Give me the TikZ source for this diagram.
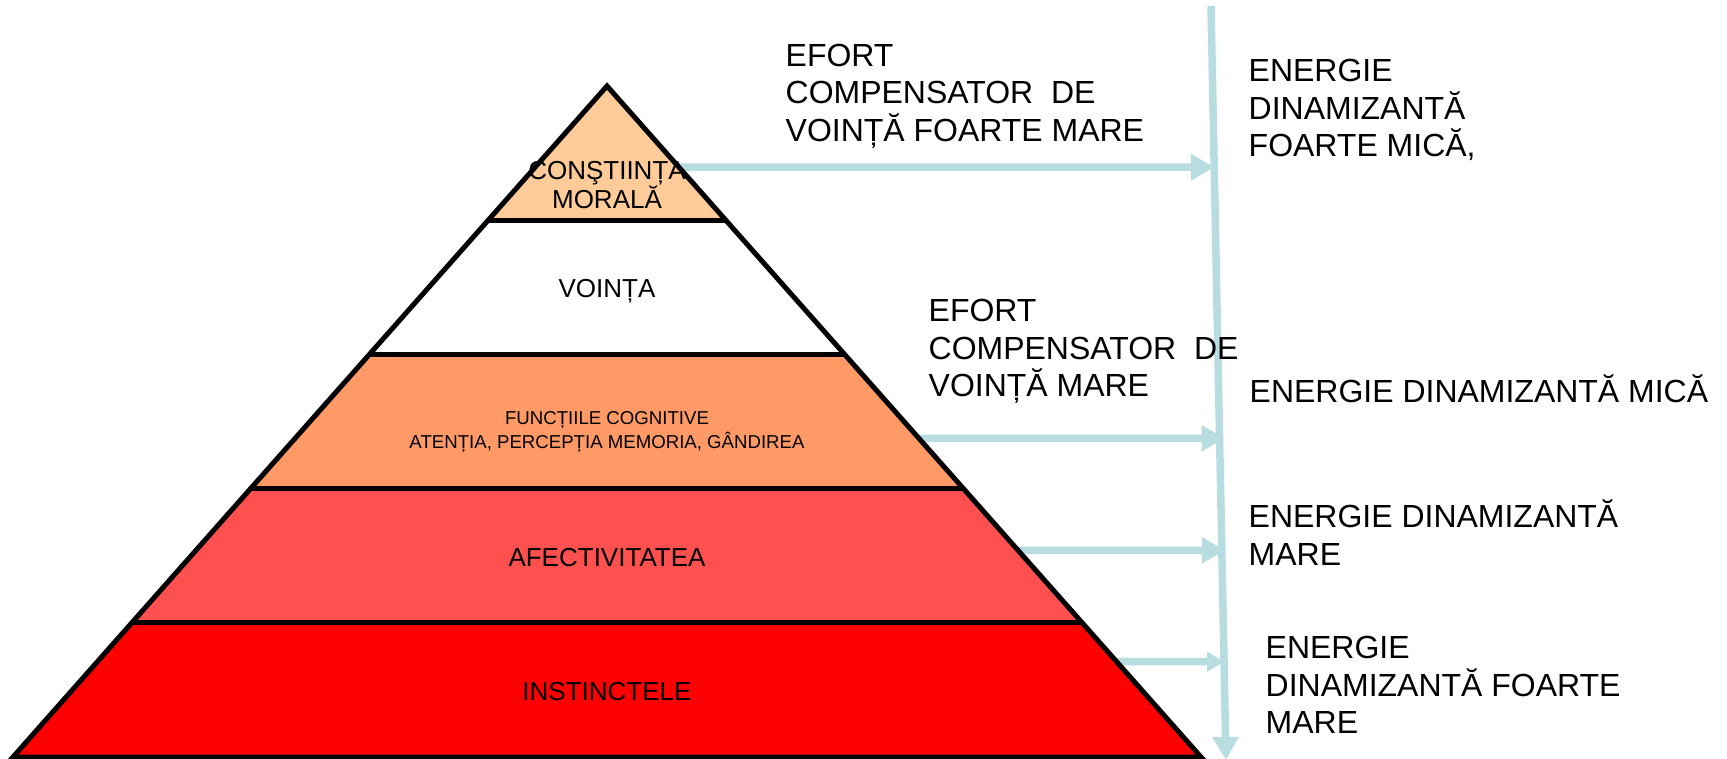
\documentclass[tikz,border=0pt]{standalone}
\usepackage{fontspec}
\setmainfont{Liberation Sans}
\usetikzlibrary{arrows.meta,calc}
\definecolor{moralcol}{HTML}{FFCC99}
\definecolor{cogncol}{HTML}{FF9966}
\definecolor{afectcol}{HTML}{FF5050}
\definecolor{instcol}{HTML}{FF0000}
\definecolor{flowcol}{HTML}{B7DDE0}
\tikzset{
  flow/.style={draw=flowcol, line width=0.75mm, -{Triangle[length=2.3mm,width=2.5mm]}},
  lvl/.style={align=center, inner sep=0pt, font=\fontsize{7.4}{8.5}\selectfont},
  txt/.style={anchor=north west, align=left, inner sep=0pt, font=\fontsize{9.1}{10.8}\selectfont}
}
\begin{document}
\begin{tikzpicture}[x=0.1mm, y=-0.1mm]
  \useasboundingbox (0,0) rectangle (1727,758);
  % pyramid corners and level points
  \coordinate (top) at (607,86);
  \coordinate (bl) at (13,757);
  \coordinate (br) at (1201,757);
  \foreach \k [evaluate=\k as \f using \k/5] in {1,...,4} {
    \coordinate (L\k) at ($(top)!\f!(bl)$);
    \coordinate (R\k) at ($(top)!\f!(br)$);
  }
  \fill[moralcol] (top) -- (R1) -- (L1) -- cycle;
  \fill[cogncol] (L2) -- (R2) -- (R3) -- (L3) -- cycle;
  \fill[afectcol] (L3) -- (R3) -- (R4) -- (L4) -- cycle;
  \fill[instcol] (L4) -- (R4) -- (br) -- (bl) -- cycle;
  % energy axis and arrows
  \coordinate (axtop) at (1211,6);
  \coordinate (axbot) at (1226,760);
  \draw[flow] (axtop) -- (axbot);
  \foreach \i/\t in {1/0.121, 2/0.525, 3/0.692, 4/0.858} {
    \pgfmathsetmacro\u{(80+\t*671)/754}
    \coordinate (s\i) at ($(top)!\t!(br)$);
    \coordinate (e\i) at ($(axtop)!\u!(axbot)$);
  }
  \draw[flow] (s1) -- (e1);
  \draw[flow] (s2) -- ($(e2)+(5,0)$);
  \draw[flow] (s3) -- ($(e3)+(3,0)$);
  \draw[flow, -{Triangle[length=1.7mm,width=1.9mm]}] (s4) -- (e4);
  % outline
  \draw[line width=0.5mm] (top) -- (br) -- (bl) -- cycle;
  \foreach \k in {1,...,4} \draw[line width=0.5mm] (L\k) -- (R\k);
  % level labels
  \node[lvl] (moral) at (607,185) {CONŞTIINȚA\\MORALĂ};
  \node[lvl] (vointa) at (607,291) {VOINȚA};
  \node[lvl, font=\fontsize{5.3}{6.8}\selectfont] (cogn) at (607,432) {FUNCȚIILE COGNITIVE\\ATENȚIA, PERCEPȚIA MEMORIA, GÂNDIREA};
  \node[lvl] (afect) at (607,558) {AFECTIVITATEA};
  \node[lvl] (inst) at (607,692) {INSTINCTELE};
  % right hand texts
  \node[txt] (effort1) at (785,43) {EFORT\\COMPENSATOR~ DE\\VOINȚĂ FOARTE MARE};
  \node[txt] (energy1) at (1248,58) {ENERGIE\\DINAMIZANTĂ\\FOARTE MICĂ,};
  \node[txt] (effort2) at (928,298) {EFORT\\COMPENSATOR~ DE\\VOINȚĂ MARE};
  \node[txt, anchor=base west] (energy2) at (1249,402) {ENERGIE DINAMIZANTĂ MICĂ};
  \node[txt] (energy3) at (1248,499) {ENERGIE DINAMIZANTĂ\\MARE};
  \node[txt] (energy4) at (1265,635) {ENERGIE\\DINAMIZANTĂ FOARTE\\MARE};
\end{tikzpicture}
\end{document}
